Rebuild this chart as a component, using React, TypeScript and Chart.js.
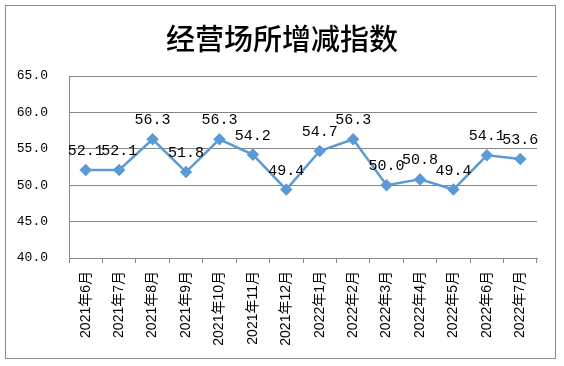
import React, { useEffect, useRef } from "react";
import { Chart, registerables } from "chart.js";

Chart.register(...registerables);

const title = "经营场所增减指数";
const categories = [
  "2021年6月", "2021年7月", "2021年8月", "2021年9月", "2021年10月", "2021年11月", "2021年12月",
  "2022年1月", "2022年2月", "2022年3月", "2022年4月", "2022年5月", "2022年6月", "2022年7月",
];
const values = [52.1, 52.1, 56.3, 51.8, 56.3, 54.2, 49.4, 54.7, 56.3, 50.0, 50.8, 49.4, 54.1, 53.6];
const yMin = 40;
const yMax = 65;
const yStep = 5;

const frame = {
  id: "frame",
  beforeDraw(chart: any) {
    const ctx = chart.ctx;
    ctx.save();
    ctx.fillStyle = "#ffffff";
    ctx.fillRect(0, 0, chart.width, chart.height);
    ctx.strokeStyle = "#8c8c8c";
    ctx.lineWidth = 1;
    ctx.strokeRect(5.5, 5.5, 550, 353);
    ctx.restore();
  },
};

const dataLabels = {
  id: "dataLabels",
  afterDatasetsDraw(chart: any) {
    const ctx = chart.ctx;
    ctx.save();
    ctx.font = "15px 'Liberation Mono', monospace";
    ctx.fillStyle = "#000000";
    ctx.textAlign = "center";
    ctx.textBaseline = "middle";
    chart.data.datasets.forEach((ds: any, i: number) => {
      const meta = chart.getDatasetMeta(i);
      meta.data.forEach((pt: any, j: number) => {
        ctx.fillText(Number(ds.data[j]).toFixed(1), pt.x, pt.y - 19);
      });
    });
    ctx.restore();
  },
};

export default function App() {
  const ref = useRef<HTMLCanvasElement>(null);
  useEffect(() => {
    const chart = new Chart(ref.current!, {
      type: "line",
      data: {
        labels: categories,
        datasets: [
          {
            data: values,
            yAxisID: "y",
            borderColor: "#5b9bd5",
            backgroundColor: "#5b9bd5",
            borderWidth: 2.5,
            pointStyle: "rectRot",
            pointRadius: 4.5,
            pointBackgroundColor: "#5b9bd5",
            pointBorderColor: "#5b9bd5",
            tension: 0,
          },
        ],
      },
      options: {
        animation: false,
        responsive: false,
        layout: { padding: 0 },
        plugins: {
          legend: { display: false },
          tooltip: { enabled: false },
          title: {
            display: true,
            text: title,
            color: "#000000",
            font: { family: "'Noto Sans CJK SC'", size: 29, weight: 500 },
            padding: { top: 21.1, bottom: 20.1 },
          },
        },
        scales: {
          x: {
            offset: true,
            afterFit(scale: any) {
              scale.height = 108;
            },
            grid: {
              drawOnChartArea: false,
              drawTicks: true,
              tickLength: 5,
              offset: true,
              color: "#868686",
            },
            border: { display: true, color: "#868686" },
            ticks: {
              minRotation: 90,
              maxRotation: 90,
              autoSkip: false,
              padding: 8,
              color: "#000000",
              font: { family: "'Liberation Sans', 'Noto Sans CJK SC'", size: 14 },
            },
          },
          y: {
            min: yMin,
            max: yMax,
            afterFit(scale: any) {
              scale.width = 69;
            },
            grid: { color: "#868686", drawTicks: false },
            border: { display: true, color: "#868686" },
            ticks: {
              stepSize: yStep,
              padding: 21,
              color: "#000000",
              font: { family: "'Liberation Mono', monospace", size: 13 },
              callback: (v: any) => Number(v).toFixed(1),
            },
          },
          spacer: {
            type: "linear",
            position: "right",
            min: yMin,
            max: yMax,
            afterFit(scale: any) {
              scale.width = 27;
            },
            grid: { display: false, drawOnChartArea: false, drawTicks: false },
            border: { display: false },
            ticks: { display: false },
          },
        },
      },
      plugins: [frame, dataLabels],
    });
    return () => chart.destroy();
  }, []);
  return (
    <div style={{ position: "absolute", left: 0, top: 0, width: 564, height: 366 }}>
      <canvas ref={ref} width={564} height={366} style={{ display: "block" }} />
    </div>
  );
}
